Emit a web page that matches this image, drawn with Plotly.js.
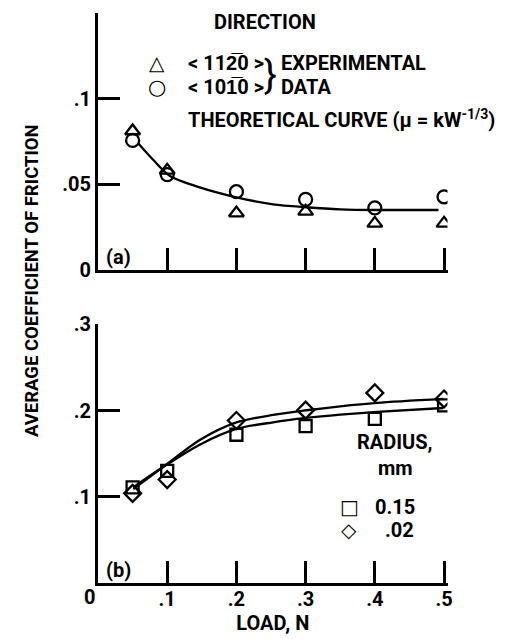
<!DOCTYPE html>
<html>
<head>
<meta charset="utf-8">
<script src="https://cdn.plot.ly/plotly-3.0.1.min.js"></script>
<style>html,body{margin:0;padding:0;background:#fff;}#chart{width:511px;height:639px;}</style>
</head>
<body>
<div id="chart"></div>
<script>
// ---- Data ----
// Panel (a): direction data
var loadA = [0.05, 0.1, 0.2, 0.3, 0.4, 0.5];
var mu1120 = [0.081, 0.058, 0.033, 0.034, 0.027, 0.027];   // triangles <11-20>
var mu1010 = [0.0755, 0.0555, 0.0455, 0.041, 0.036, 0.0425]; // circles <10-10>
// Panel (a): theoretical curve (read points)
var curveAx = [0.058, 0.08, 0.104, 0.147, 0.2, 0.253, 0.301, 0.35, 0.403, 0.492];
var curveAy = [0.0738, 0.064, 0.0547, 0.048, 0.0422, 0.0381, 0.0364, 0.0352, 0.0348, 0.0348];

// Panel (b): radius data
var loadB = [0.05, 0.1, 0.2, 0.3, 0.4, 0.5];
var muR015 = [0.111, 0.130, 0.172, 0.182, 0.1905, 0.206]; // squares 0.15 mm
var muR002 = [0.104, 0.120, 0.1885, 0.2005, 0.2205, 0.2135]; // diamonds .02 mm
var curveBx = [0.051, 0.094, 0.147, 0.2, 0.253, 0.301, 0.35, 0.403, 0.499];
var curveR015y = [0.111, 0.1345, 0.1605, 0.1787, 0.1864, 0.1915, 0.1953, 0.1985, 0.203];
var curveR002y = [0.109, 0.1345, 0.166, 0.1864, 0.195, 0.2004, 0.205, 0.209, 0.2136];

var xTickVals = [0.1, 0.2, 0.3, 0.4, 0.5];
var xTickText = ['.1', '.2', '.3', '.4', '.5'];
var yTickValsA = [0, 0.05, 0.1];
var yTickTextA = ['0', '.05', '.1'];
var yTickValsB = [0.1, 0.2, 0.3];
var yTickTextB = ['.1', '.2', '.3'];

// ---- Styling ----
var FONT = "Roboto, 'Liberation Sans', sans-serif";
var SYM = "'DejaVu Sans', sans-serif";
var W = 511, H = 639;
function px(x) { return x / W; }
function py(y) { return 1 - y / H; }

function mk(symbol, size) {
  return {symbol: symbol, size: size, color: 'black', line: {width: 2.3, color: 'black'}};
}
var lineStyle = {color: 'black', width: 2.3, shape: 'spline', smoothing: 0.8};

var traces = [
  {x: curveAx, y: curveAy, mode: 'lines', line: lineStyle, xaxis: 'x', yaxis: 'y', name: 'Theoretical curve'},
  {x: loadA, y: mu1120, mode: 'markers', marker: mk('triangle-up-open', 13), xaxis: 'x', yaxis: 'y', name: '<11-20>'},
  {x: loadA, y: mu1010, mode: 'markers', marker: mk('circle-open', 13), xaxis: 'x', yaxis: 'y', name: '<10-10>'},
  {x: curveBx, y: curveR015y, mode: 'lines', line: lineStyle, xaxis: 'x2', yaxis: 'y2', name: 'fit 0.15'},
  {x: curveBx, y: curveR002y, mode: 'lines', line: lineStyle, xaxis: 'x2', yaxis: 'y2', name: 'fit .02'},
  {x: loadB, y: muR015, mode: 'markers', marker: mk('square-open', 12), xaxis: 'x2', yaxis: 'y2', name: '0.15'},
  {x: loadB, y: muR002, mode: 'markers', marker: mk('diamond-open', 13), xaxis: 'x2', yaxis: 'y2', name: '.02'}
];

var xDomain = [px(98), px(447.5)];
var baseAxis = {
  showline: true, linewidth: 3, linecolor: 'black', mirror: false,
  ticks: 'inside', ticklen: 22, tickwidth: 3, tickcolor: 'black',
  showgrid: false, zeroline: false, automargin: false, fixedrange: true,
  tickfont: {family: FONT, size: 20, color: 'black', weight: 'bold'}
};
function ax(extra) { return Object.assign({}, baseAxis, extra); }

function ann(text, x, y, opts) {
  return Object.assign({
    text: text, x: px(x), y: py(y), xref: 'paper', yref: 'paper',
    xanchor: 'left', yanchor: 'middle', showarrow: false,
    font: {family: FONT, size: 20, color: 'black', weight: 'bold'}
  }, opts || {});
}

var layout = {
  width: W, height: H,
  margin: {l: 0, r: 0, t: 0, b: 0, pad: 0},
  paper_bgcolor: 'white', plot_bgcolor: 'white',
  showlegend: false,
  xaxis: ax({domain: xDomain, range: [0, 0.505], anchor: 'y', tickvals: xTickVals, showticklabels: false}),
  yaxis: ax({domain: [py(269.5), py(13)], range: [0, 0.15], anchor: 'x', tickvals: yTickValsA, ticktext: yTickTextA}),
  xaxis2: ax({domain: xDomain, range: [0, 0.505], anchor: 'y2', tickvals: xTickVals, ticktext: xTickText,
    ticklabelstandoff: -4,
    title: {text: 'LOAD, N', standoff: 0, font: {family: FONT, size: 20, color: 'black', weight: 'bold'}}}),
  yaxis2: ax({domain: [py(583), py(324.4)], range: [0, 0.3], anchor: 'x2', tickvals: yTickValsB, ticktext: yTickTextB}),
  annotations: [
    ann('AVERAGE COEFFICIENT OF FRICTION', 32, 281, {xanchor: 'center', textangle: -90, font: {family: FONT, size: 18.5, color: 'black', weight: 'bold'}}),
    ann('0', 89, 597),
    ann('(a)', 104, 257, {xanchor: 'left'}),
    ann('(b)', 104, 570),
    ann('DIRECTION', 265, 22, {xanchor: 'center'}),
    ann('\u25B3', 157, 63, {xanchor: 'center', font: {family: SYM, size: 20, color: 'black', weight: 'bold'}}),
    ann('\u25CB', 157, 87, {xanchor: 'center', font: {family: SYM, size: 21, color: 'black', weight: 'bold'}}),
    ann('&lt; 112\u03050 &gt;', 186, 63),
    ann('&lt; 101\u03050 &gt;', 186, 87),
    ann('}', 270, 75, {xanchor: 'center', font: {family: FONT, size: 38, color: 'black'}}),
    ann('EXPERIMENTAL', 279, 63),
    ann('DATA', 279, 87),
    ann('THEORETICAL CURVE (\u03BC = kW<sup>-1/3</sup>)', 186, 119),
    ann('RADIUS,', 355, 442),
    ann('mm', 395, 468, {xanchor: 'center'}),
    ann('\u25A1', 349, 507, {xanchor: 'center', font: {family: SYM, size: 20, color: 'black', weight: 'bold'}}),
    ann('0.15', 373, 507),
    ann('\u25C7', 349, 530, {xanchor: 'center', font: {family: SYM, size: 20, color: 'black', weight: 'bold'}}),
    ann('.02', 383, 530)
  ]
};
layout.annotations[1].xanchor = 'center';

Plotly.newPlot('chart', traces, layout, {staticPlot: true, displayModeBar: false});
</script>
</body>
</html>
